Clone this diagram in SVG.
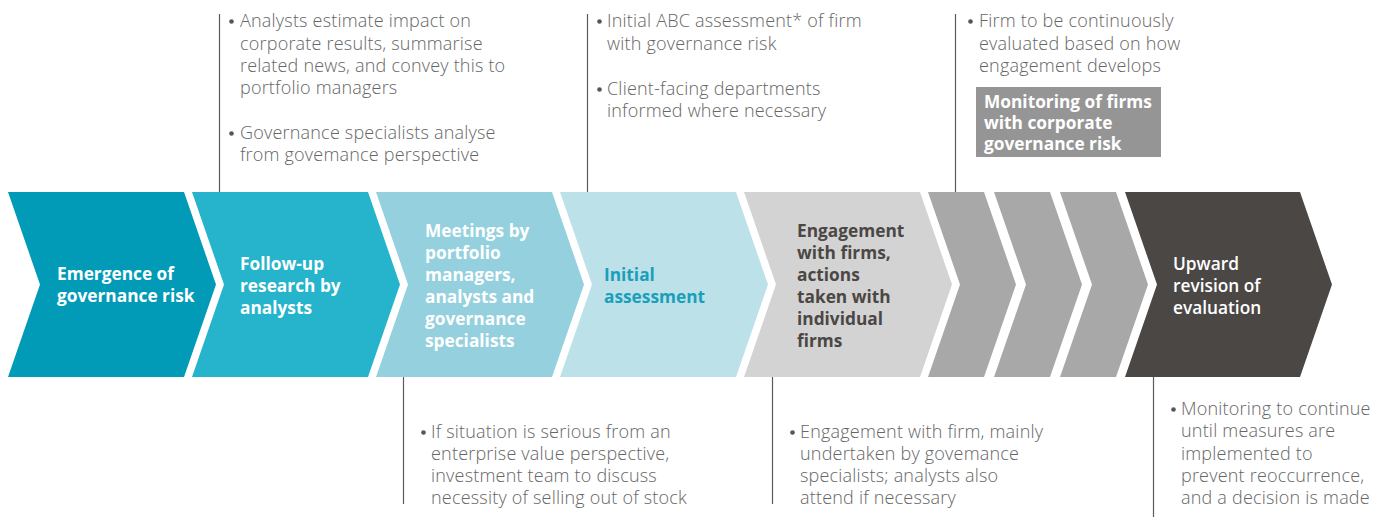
<svg xmlns="http://www.w3.org/2000/svg" width="1393" height="517" viewBox="0 0 1393 517">
<style>
.body{font-family:"Open Sans","Liberation Sans",sans-serif;font-size:18px;font-weight:300;letter-spacing:0.2px;fill:#666666}
.lbl{font-family:"Open Sans","Liberation Sans",sans-serif;font-size:17.3px;font-weight:700}
.w{fill:#ffffff}
.ln{stroke:#5a5a5a;stroke-width:1.2;fill:none}
.dot{fill:#555555}
</style>
<rect width="1393" height="517" fill="#ffffff"/>
<g id="connectors">
<line class="ln" x1="219.5" y1="14" x2="219.5" y2="192"/>
<line class="ln" x1="587.5" y1="14" x2="587.5" y2="192"/>
<line class="ln" x1="955.5" y1="14" x2="955.5" y2="192"/>
<line class="ln" x1="403.5" y1="377" x2="403.5" y2="504"/>
<line class="ln" x1="772.5" y1="377" x2="772.5" y2="504"/>
<line class="ln" x1="1153.5" y1="377" x2="1153.5" y2="517"/>
</g>
<g id="step1">
<polygon points="8,192 184,192 216,284.5 184,377 8,377 40,284.5" fill="#019bb8"/>
<text class="lbl w" x="57" y="280">Emergence of</text>
<text class="lbl w" x="57" y="302">governance risk</text>
</g>
<g id="step2">
<polygon points="192,192 368,192 400,284.5 368,377 192,377 224,284.5" fill="#25b4cb"/>
<text class="lbl w" x="240" y="270">Follow-up</text>
<text class="lbl w" x="240" y="292">research by</text>
<text class="lbl w" x="240" y="314">analysts</text>
</g>
<g id="step3">
<polygon points="376,192 552,192 584,284.5 552,377 376,377 408,284.5" fill="#94d0de"/>
<text class="lbl w" x="425" y="237">Meetings by</text>
<text class="lbl w" x="425" y="259">portfolio</text>
<text class="lbl w" x="425" y="281">managers,</text>
<text class="lbl w" x="425" y="303">analysts and</text>
<text class="lbl w" x="425" y="325">governance</text>
<text class="lbl w" x="425" y="347">specialists</text>
</g>
<g id="step4">
<polygon points="560,192 736,192 768,284.5 736,377 560,377 592,284.5" fill="#bce1e8"/>
<text class="lbl" fill="#1a9fba" x="604" y="281">Initial</text>
<text class="lbl" fill="#1a9fba" x="604" y="303">assessment</text>
</g>
<g id="step5">
<polygon points="744,192 920,192 952,284.5 920,377 744,377 776,284.5" fill="#d3d3d3"/>
<text class="lbl" fill="#4b4745" x="797" y="237">Engagement</text>
<text class="lbl" fill="#4b4745" x="797" y="259">with firms,</text>
<text class="lbl" fill="#4b4745" x="797" y="281">actions</text>
<text class="lbl" fill="#4b4745" x="797" y="303">taken with</text>
<text class="lbl" fill="#4b4745" x="797" y="325">individual</text>
<text class="lbl" fill="#4b4745" x="797" y="347">firms</text>
</g>
<g id="step6">
<polygon points="928,192 984,192 1016,284.5 984,377 928,377 960,284.5" fill="#a8a8a8"/>
</g>
<g id="step7">
<polygon points="994,192 1050,192 1082,284.5 1050,377 994,377 1026,284.5" fill="#a8a8a8"/>
</g>
<g id="step8">
<polygon points="1060,192 1116,192 1148,284.5 1116,377 1060,377 1092,284.5" fill="#a8a8a8"/>
</g>
<g id="step9">
<polygon points="1125,192 1300,192 1332,284.5 1300,377 1125,377 1157,284.5" fill="#4b4745"/>
<text class="lbl w" style="font-weight:600" x="1173" y="270">Upward</text>
<text class="lbl w" style="font-weight:600" x="1173" y="292">revision of</text>
<text class="lbl w" style="font-weight:600" x="1173" y="314">evaluation</text>
</g>
<g id="note-research">
<circle class="dot" cx="231.5" cy="21.5" r="2.3"/>
<text class="body" x="240" y="27">Analysts estimate impact on</text>
<text class="body" x="240" y="50">corporate results, summarise</text>
<text class="body" x="240" y="72">related news, and convey this to</text>
<text class="body" x="240" y="94">portfolio managers</text>
<circle class="dot" cx="231.5" cy="133.5" r="2.3"/>
<text class="body" x="240" y="139">Governance specialists analyse</text>
<text class="body" x="240" y="161">from govemance perspective</text>
</g>
<g id="note-assessment">
<circle class="dot" cx="599.5" cy="21.5" r="2.3"/>
<text class="body" x="607" y="27">Initial ABC assessment* of firm</text>
<text class="body" x="607" y="50">with governance risk</text>
<circle class="dot" cx="599.5" cy="89.5" r="2.3"/>
<text class="body" x="607" y="95">Client-facing departments</text>
<text class="body" x="607" y="117">informed where necessary</text>
</g>
<g id="note-monitoring">
<circle class="dot" cx="970.5" cy="21.5" r="2.3"/>
<text class="body" x="979" y="27">Firm to be continuously</text>
<text class="body" x="979" y="50">evaluated based on how</text>
<text class="body" x="979" y="72">engagement develops</text>
<rect x="976" y="87" width="185" height="70" fill="#959595"/>
<text class="lbl w" x="984" y="108">Monitoring of firms</text>
<text class="lbl w" x="984" y="129">with corporate</text>
<text class="lbl w" x="984" y="150">governance risk</text>
</g>
<g id="note-meetings">
<circle class="dot" cx="423.5" cy="432.5" r="2.3"/>
<text class="body" x="431" y="438">If situation is serious from an</text>
<text class="body" x="431" y="460">enterprise value perspective,</text>
<text class="body" x="431" y="482">investment team to discuss</text>
<text class="body" x="431" y="504">necessity of selling out of stock</text>
</g>
<g id="note-engagement">
<circle class="dot" cx="792.5" cy="432.5" r="2.3"/>
<text class="body" x="800" y="438">Engagement with firm, mainly</text>
<text class="body" x="800" y="460">undertaken by govemance</text>
<text class="body" x="800" y="482">specialists; analysts also</text>
<text class="body" x="800" y="504">attend if necessary</text>
</g>
<g id="note-upward">
<circle class="dot" cx="1173.5" cy="409.5" r="2.3"/>
<text class="body" x="1181" y="415">Monitoring to continue</text>
<text class="body" x="1181" y="437">until measures are</text>
<text class="body" x="1181" y="460">implemented to</text>
<text class="body" x="1181" y="482">prevent reoccurrence,</text>
<text class="body" x="1181" y="504">and a decision is made</text>
</g>
</svg>
